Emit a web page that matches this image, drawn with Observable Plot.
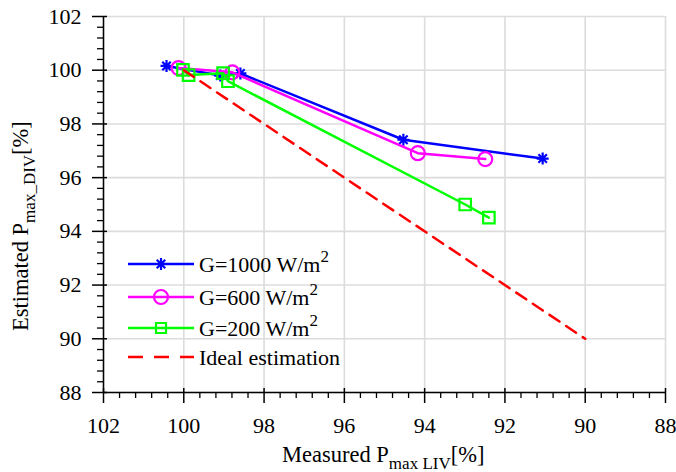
<!DOCTYPE html>
<html>
<head>
<meta charset="utf-8">
<script src="https://cdn.jsdelivr.net/npm/d3@7"></script>
<script src="https://cdn.jsdelivr.net/npm/@observablehq/plot@0.6"></script>
<style>
  html, body { margin: 0; padding: 0; background: #fff; }
  svg { display: block; }
  svg text { font-family: 'Liberation Serif', 'Times New Roman', serif !important; }
</style>
</head>
<body>
<div id="chart"></div>
<script>
// ---- data ----
const g1000X = [100.43, 99.09, 98.59, 94.53, 91.06];
const g1000Y = [100.16, 99.80, 99.88, 97.41, 96.71];
const g600X = [100.13, 98.79, 94.17, 92.49];
const g600Y = [100.08, 99.92, 96.91, 96.69];
const g200X = [100.02, 99.88, 99.02, 98.90, 92.99, 92.40];
const g200Y = [100.01, 99.82, 99.89, 99.59, 95.00, 94.51];
const idealX = [100, 90];
const idealY = [100, 90];
const majorTicks = [102, 100, 98, 96, 94, 92, 90, 88];
const seriesNames = ["G=1000 W/m", "G=600 W/m", "G=200 W/m", "Ideal estimation"];

const xDomain = [102, 88];
const yDomain = [88, 102];
const minorTicks = d3.range(0, 36).map(i => +(102 - i * 0.4).toFixed(1))
  .filter(v => Math.abs(v - Math.round(v)) > 1e-6 || Math.round(v) % 2 !== 0);

const toRows = (xs, ys) => xs.map((x, i) => ({x, y: ys[i]}));
const s1000 = toRows(g1000X, g1000Y);
const s600 = toRows(g600X, g600Y);
const s200 = toRows(g200X, g200Y);
const sIdeal = toRows(idealX, idealY);

// 8-spoke asterisk symbol
const star8 = {
  draw(ctx, size) {
    const r = Math.sqrt(size / Math.PI);
    for (let k = 0; k < 4; k++) {
      const a = k * Math.PI / 4;
      const dx = r * Math.cos(a), dy = r * Math.sin(a);
      ctx.moveTo(-dx, -dy);
      ctx.lineTo(dx, dy);
    }
  }
};

const font = "'Liberation Serif', 'Times New Roman', serif";
const BLUE = "#0000ff", MAG = "#ff00ff", GREEN = "#00ff00", RED = "#ff0000";

const svg = Plot.plot({
  width: 676,
  height: 472,
  marginLeft: 103,
  marginRight: 11,
  marginTop: 16,
  marginBottom: 80,
  x: {domain: xDomain, axis: null},
  y: {domain: yDomain, axis: null},
  style: {fontFamily: font, fontSize: "22px", background: "#fff", color: "#000"},
  marks: [
    Plot.gridX(majorTicks, {stroke: "#dcdcdc", strokeOpacity: 1, strokeWidth: 1.6}),
    Plot.gridY(majorTicks, {stroke: "#dcdcdc", strokeOpacity: 1, strokeWidth: 1.6}),
    // axis lines
    Plot.ruleX([xDomain[0]], {stroke: "#000", strokeWidth: 1.5}),
    Plot.ruleY([yDomain[0]], {stroke: "#000", strokeWidth: 1.5}),
    // major ticks + labels (outward)
    Plot.axisX({ticks: majorTicks, tickSize: 11, tickPadding: 14, tickFormat: d => String(d), label: null, fontSize: 22, strokeWidth: 1.5}),
    Plot.axisY({ticks: majorTicks, tickSize: 11, tickPadding: 11, tickFormat: d => String(d), label: null, fontSize: 22, strokeWidth: 1.5}),
    // minor ticks (outward)
    Plot.axisX({ticks: minorTicks, tickSize: 6, tickFormat: () => "", label: null, strokeWidth: 1.3}),
    Plot.axisY({ticks: minorTicks, tickSize: 6, tickFormat: () => "", label: null, strokeWidth: 1.3}),
    // major ticks inward part
    Plot.ruleX(majorTicks, {x: d => d, y1: yDomain[0], y2: yDomain[0], insetTop: -4, stroke: "#000", strokeWidth: 1.5}),
    Plot.ruleY(majorTicks, {y: d => d, x1: xDomain[0], x2: xDomain[0], insetRight: -4, stroke: "#000", strokeWidth: 1.5}),
    // series
    Plot.line(s1000, {x: "x", y: "y", stroke: BLUE, strokeWidth: 2.5}),
    Plot.dot(s1000, {x: "x", y: "y", symbol: star8, r: 6, stroke: BLUE, strokeWidth: 2.2, fill: "none"}),
    Plot.line(s600, {x: "x", y: "y", stroke: MAG, strokeWidth: 2.5}),
    Plot.dot(s600, {x: "x", y: "y", symbol: "circle", r: 7, stroke: MAG, strokeWidth: 2.2, fill: "none"}),
    Plot.line(s200, {x: "x", y: "y", stroke: GREEN, strokeWidth: 2.5}),
    Plot.dot(s200, {x: "x", y: "y", symbol: "square", r: 6.5, stroke: GREEN, strokeWidth: 2.2, fill: "none"}),
    Plot.line(sIdeal, {x: "x", y: "y", stroke: RED, strokeWidth: 2.5, strokeDasharray: "12,8"})
  ]
});

const s = d3.select(svg);
s.selectAll("text").style("font-size", "22px").style("font-variant", "normal");

// axis titles
const xl = s.append("text")
  .attr("x", 282).attr("y", 462)
  .style("text-anchor", "start")
  .style("font-size", "22.5px").attr("fill", "#000");
xl.append("tspan").text("Measured P");
xl.append("tspan").attr("dy", 7).style("font-size", "17px").text("max LIV");
xl.append("tspan").attr("dy", -7).text("[%]");

const yl = s.append("text")
  .attr("transform", "translate(28,331) rotate(-90)")
  .style("text-anchor", "start")
  .style("font-size", "22.5px").attr("fill", "#000");
yl.append("tspan").text("Estimated P");
yl.append("tspan").attr("dy", 7).style("font-size", "17px").text("max_DIV");
yl.append("tspan").attr("dy", -7).text("[%]");

// legend
const legendItems = [
  {name: seriesNames[0], color: BLUE, sym: star8, size: Math.PI * 36, sup: "2"},
  {name: seriesNames[1], color: MAG, sym: d3.symbolCircle, size: Math.PI * 49, sup: "2"},
  {name: seriesNames[2], color: GREEN, sym: d3.symbolSquare, size: 100, sup: "2"},
  {name: seriesNames[3], color: RED, sym: null, dash: true}
];
const lg = s.append("g").attr("transform", "translate(128,264)");
legendItems.forEach((d, i) => {
  const g = lg.append("g").attr("transform", `translate(0,${[0, 33, 64, 93][i]})`);
  g.append("line").attr("x1", 0).attr("x2", 66).attr("y1", 0).attr("y2", 0)
    .attr("stroke", d.color).attr("stroke-width", 2.5)
    .attr("stroke-dasharray", d.dash ? "15,11" : null);
  if (d.sym) {
    g.append("path").attr("transform", "translate(33,0)")
      .attr("d", d3.symbol(d.sym, d.size)())
      .attr("fill", "none").attr("stroke", d.color).attr("stroke-width", 2.2);
  }
  const t = g.append("text").attr("x", 71).attr("y", 8)
    .style("text-anchor", "start")
    .style("font-size", "22px").attr("fill", "#000");
  t.append("tspan").text(d.name);
  if (d.sup) t.append("tspan").attr("dy", -10).style("font-size", "17px").text(d.sup);
});

document.getElementById("chart").appendChild(svg);
</script>
</body>
</html>
